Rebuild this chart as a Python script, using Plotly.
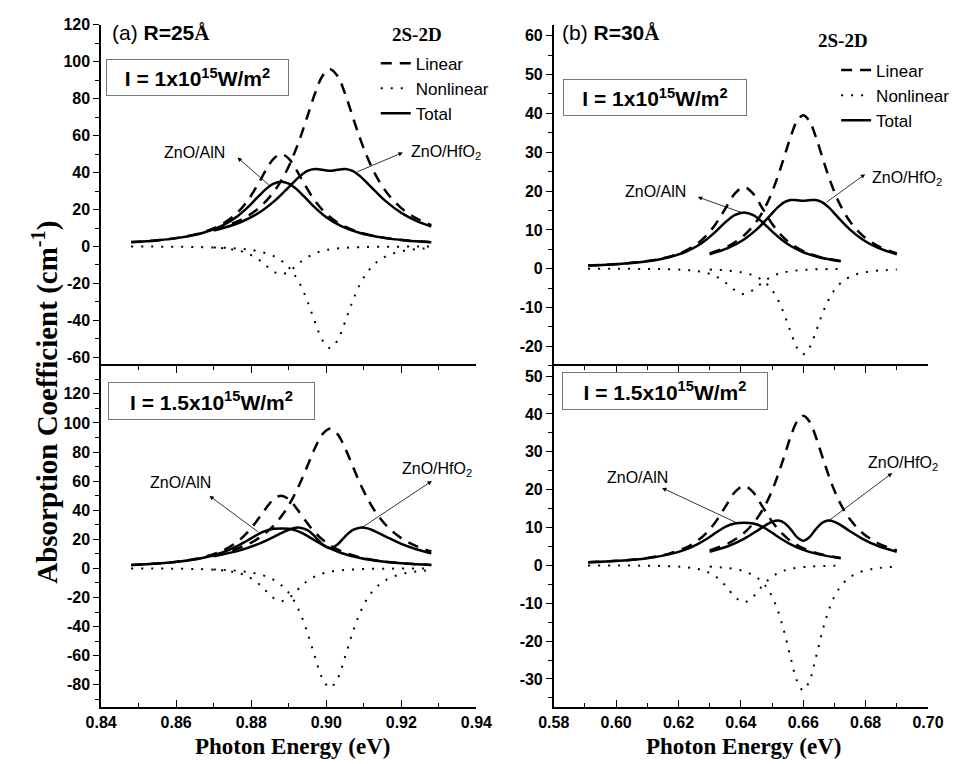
import plotly.graph_objects as go

# ---------------- data ----------------
# (a) R = 25 A
E_aln_a = [0.848, 0.855, 0.861, 0.867, 0.872, 0.876, 0.879, 0.882, 0.884, 0.886, 0.888,
           0.890, 0.892, 0.894, 0.897, 0.900, 0.904, 0.909, 0.915, 0.921, 0.928]
lin_aln_a = [2.4, 3.4, 4.9, 7.6, 11.8, 17.7, 24.7, 34.4, 41.6, 47.6, 50.0,
             47.6, 41.6, 34.4, 24.7, 17.7, 11.8, 7.6, 4.9, 3.4, 2.4]
nl_aln_a_1 = [-0.03, -0.07, -0.14, -0.35, -0.84, -1.9, -3.7, -7.1, -10.4, -13.6, -15.0,
              -13.6, -10.4, -7.1, -3.7, -1.9, -0.84, -0.35, -0.14, -0.07, -0.03]
tot_aln_a_1 = [2.3, 3.3, 4.8, 7.3, 11.0, 15.9, 21.1, 27.3, 31.2, 34.0, 35.0,
               34.0, 31.2, 27.3, 21.1, 15.9, 11.0, 7.3, 4.8, 3.3, 2.3]
nl_aln_a_15 = [-0.05, -0.1, -0.22, -0.52, -1.26, -2.8, -5.5, -10.6, -15.6, -20.4, -22.5,
               -20.4, -15.6, -10.6, -5.5, -2.8, -1.26, -0.52, -0.22, -0.1, -0.05]
tot_aln_a_15 = [2.3, 3.3, 4.7, 7.1, 10.6, 14.9, 19.2, 23.7, 26.0, 27.2, 27.5,
                27.2, 26.0, 23.7, 19.2, 14.9, 10.6, 7.1, 4.7, 3.3, 2.3]

E_hfo_a = [0.870, 0.877, 0.882, 0.886, 0.889, 0.891, 0.893, 0.895, 0.897, 0.899, 0.901,
           0.903, 0.905, 0.907, 0.909, 0.911, 0.913, 0.916, 0.920, 0.924, 0.928]
lin_hfo_a = [9.1, 14.2, 20.8, 29.5, 39.3, 48.0, 58.5, 70.6, 82.8, 92.3, 96.0,
             92.3, 82.8, 70.6, 58.5, 48.0, 39.3, 29.5, 20.8, 15.3, 11.6]
nl_hfo_a_1 = [-0.5, -1.2, -2.6, -5.2, -9.2, -13.8, -20.4, -29.7, -40.9, -50.8, -55.0,
              -50.8, -40.9, -29.7, -20.4, -13.8, -9.2, -5.2, -2.6, -1.4, -0.8]
tot_hfo_a_1 = [8.6, 13.0, 18.2, 24.3, 30.1, 34.2, 38.1, 40.9, 41.9, 41.5, 41.0,
               41.5, 41.9, 40.9, 38.1, 34.2, 30.1, 24.3, 18.2, 13.9, 10.8]
nl_hfo_a_15 = [-0.7, -1.8, -3.9, -7.8, -13.8, -20.5, -30.5, -44.3, -60.9, -75.8, -82.0,
               -75.8, -60.9, -44.3, -30.5, -20.5, -13.8, -7.8, -3.9, -2.1, -1.2]
tot_hfo_a_15 = [8.4, 12.4, 16.9, 21.7, 25.5, 27.5, 28.0, 26.3, 21.9, 16.5, 14.0,
                16.5, 21.9, 26.3, 28.0, 27.5, 25.5, 21.7, 16.9, 13.2, 10.4]

# (b) R = 30 A
E_aln_b = [0.591, 0.601, 0.610, 0.617, 0.622, 0.626, 0.629, 0.632, 0.635, 0.638, 0.641,
           0.644, 0.647, 0.650, 0.653, 0.656, 0.660, 0.665, 0.672]
lin_aln_b = [0.81, 1.23, 1.98, 3.11, 4.55, 6.46, 8.61, 11.6, 15.44, 19.27, 21.0,
             19.27, 15.44, 11.6, 8.61, 6.46, 4.55, 3.11, 1.98]
nl_aln_b_1 = [-0.01, -0.02, -0.06, -0.14, -0.31, -0.62, -1.09, -1.98, -3.51, -5.47, -6.5,
              -5.47, -3.51, -1.98, -1.09, -0.62, -0.31, -0.14, -0.06]
tot_aln_b_1 = [0.8, 1.21, 1.92, 2.97, 4.24, 5.84, 7.52, 9.62, 11.93, 13.8, 14.5,
               13.8, 11.93, 9.62, 7.52, 5.84, 4.24, 2.97, 1.92]
nl_aln_b_15 = [-0.01, -0.03, -0.09, -0.21, -0.46, -0.92, -1.64, -2.98, -5.27, -8.21, -9.75,
               -8.21, -5.27, -2.98, -1.64, -0.92, -0.46, -0.21, -0.09]
tot_aln_b_15 = [0.8, 1.2, 1.89, 2.9, 4.09, 5.54, 6.97, 8.62, 10.17, 11.06, 11.25,
                11.06, 10.17, 8.62, 6.97, 5.54, 4.09, 2.9, 1.89]

E_hfo_b = [0.630, 0.636, 0.641, 0.645, 0.648, 0.650, 0.652, 0.654, 0.656, 0.658, 0.660,
           0.662, 0.664, 0.666, 0.668, 0.670, 0.672, 0.675, 0.679, 0.684, 0.690]
lin_hfo_b = [3.95, 5.84, 8.57, 12.15, 16.19, 19.75, 24.09, 29.04, 34.05, 37.98, 39.5,
             37.98, 34.05, 29.04, 24.09, 19.75, 16.19, 12.15, 8.57, 5.84, 3.95]
nl_hfo_b_1 = [-0.22, -0.48, -1.03, -2.08, -3.69, -5.5, -8.18, -11.9, -16.35, -20.34, -22.0,
              -20.34, -16.35, -11.9, -8.18, -5.5, -3.69, -2.08, -1.03, -0.48, -0.22]
tot_hfo_b_1 = [3.73, 5.36, 7.54, 10.07, 12.5, 14.25, 15.91, 17.14, 17.7, 17.64, 17.5,
               17.64, 17.7, 17.14, 15.91, 14.25, 12.5, 10.07, 7.54, 5.36, 3.73]
nl_hfo_b_15 = [-0.33, -0.72, -1.55, -3.13, -5.54, -8.25, -12.27, -17.84, -24.53, -30.51, -33.0,
               -30.51, -24.53, -17.84, -12.27, -8.25, -5.54, -3.13, -1.55, -0.72, -0.33]
tot_hfo_b_15 = [3.62, 5.12, 7.02, 9.02, 10.65, 11.5, 11.82, 11.2, 9.52, 7.47, 6.5,
                7.47, 9.52, 11.2, 11.82, 11.5, 10.65, 9.02, 7.02, 5.12, 3.62]

legend_names = ["Linear", "Nonlinear", "Total"]

# tick labels
xt_a = [0.84, 0.86, 0.88, 0.90, 0.92, 0.94]
xt_b = [0.58, 0.60, 0.62, 0.64, 0.66, 0.68, 0.70]
yt_a_top = [-60, -40, -20, 0, 20, 40, 60, 80, 100, 120]
yt_a_bot = [-80, -60, -40, -20, 0, 20, 40, 60, 80, 100, 120]
yt_b_top = [-20, -10, 0, 10, 20, 30, 40, 50, 60]
yt_b_bot = [-30, -20, -10, 0, 10, 20, 30, 40, 50]

# ---------------- figure ----------------
W, H = 973, 764
def fx(p): return p / W
def fy(p): return 1 - p / H

fig = go.Figure()

DASH = "11px,8px"
DOT = "2px,8px"
LW = 2.5

panels = [
    ("x", "y", [(E_aln_a, lin_aln_a, nl_aln_a_1, tot_aln_a_1), (E_hfo_a, lin_hfo_a, nl_hfo_a_1, tot_hfo_a_1)]),
    ("x2", "y2", [(E_aln_b, lin_aln_b, nl_aln_b_1, tot_aln_b_1), (E_hfo_b, lin_hfo_b, nl_hfo_b_1, tot_hfo_b_1)]),
    ("x3", "y3", [(E_aln_a, lin_aln_a, nl_aln_a_15, tot_aln_a_15), (E_hfo_a, lin_hfo_a, nl_hfo_a_15, tot_hfo_a_15)]),
    ("x4", "y4", [(E_aln_b, lin_aln_b, nl_aln_b_15, tot_aln_b_15), (E_hfo_b, lin_hfo_b, nl_hfo_b_15, tot_hfo_b_15)]),
]
for xa, ya, mats in panels:
    for E, lin, nl, tot in mats:
        fig.add_trace(go.Scatter(x=E, y=nl, xaxis=xa, yaxis=ya, mode="lines", showlegend=False,
                                 line=dict(color="black", width=2, dash=DOT, shape="spline")))
        fig.add_trace(go.Scatter(x=E, y=lin, xaxis=xa, yaxis=ya, mode="lines", showlegend=False,
                                 line=dict(color="black", width=LW, dash=DASH, shape="spline")))
        fig.add_trace(go.Scatter(x=E, y=tot, xaxis=xa, yaxis=ya, mode="lines", showlegend=False,
                                 line=dict(color="black", width=LW, shape="spline")))

# legend entries
styles = [dict(dash=DASH, width=LW), dict(dash=DOT, width=2), dict(width=LW)]
for lg, xa, ya in [("legend", "x", "y"), ("legend2", "x2", "y2")]:
    for name, st in zip(legend_names, styles):
        fig.add_trace(go.Scatter(x=[None], y=[None], xaxis=xa, yaxis=ya, mode="lines", name=name,
                                 legend=lg, line=dict(color="black", **st)))

SANS = "Liberation Sans, Arial, sans-serif"
SERIF = "Liberation Serif, Times New Roman, serif"
tickfont = dict(family=SANS, size=16, color="black", weight=700)

def bold_labels(vals, fmt):
    return ["<b>" + fmt.format(v) + "</b>" for v in vals]

def xax(rng, dom, anchor, labels, vals, minor):
    d = dict(range=rng, domain=dom, anchor=anchor, showgrid=False, zeroline=False,
             tickvals=vals, ticktext=bold_labels(vals, "{:.2f}"), tickfont=tickfont,
             showticklabels=labels)
    if labels:
        d.update(showline=True, linecolor="black", linewidth=1.5,
                 ticks="inside", ticklen=7, tickwidth=1.3, tickcolor="black", mirror="ticks",
                 minor=dict(dtick=minor, tick0=rng[0], ticks="inside", ticklen=4,
                            tickcolor="black", tickwidth=1.2))
    else:
        d.update(showline=False, ticks="")
    return d

def yax(rng, dom, anchor, vals, minor):
    return dict(range=rng, domain=dom, anchor=anchor, showline=True, linecolor="black", linewidth=1.5,
                showgrid=False, zeroline=False, tickvals=vals, ticktext=bold_labels(vals, "{:d}"),
                ticks="outside", ticklen=6, tickwidth=1.3, tickcolor="black", tickfont=tickfont,
                minor=dict(dtick=minor, tick0=0, ticks="outside", ticklen=4, tickcolor="black",
                           tickwidth=1.2))

xL = [fx(88), fx(476)]
xR = [fx(556), fx(943)]
yT = [fy(362), fy(17)]
yB = [fy(706), fy(362)]

legfont = dict(family=SANS, size=17, color="black")
fig.update_layout(
    width=W, height=H, margin=dict(l=0, r=0, t=0, b=0),
    plot_bgcolor="white", paper_bgcolor="white",
    xaxis=xax([0.84, 0.94], xL, "y", False, xt_a, 0.01),
    yaxis=yax([-64.8, 120], yT, "x", yt_a_top, 10),
    xaxis2=xax([0.58, 0.70], xR, "y2", False, xt_b, 0.01),
    yaxis2=yax([-25.1, 62.8], yT, "x2", yt_b_top, 5),
    xaxis3=xax([0.84, 0.94], xL, "y3", True, xt_a, 0.01),
    yaxis3=yax([-95, 139], yB, "x3", yt_a_bot, 10),
    xaxis4=xax([0.58, 0.70], xR, "y4", True, xt_b, 0.01),
    yaxis4=yax([-37.3, 52.6], yB, "x4", yt_b_bot, 5),
    legend=dict(x=fx(372), y=fy(38), xanchor="left", yanchor="top", bgcolor="rgba(0,0,0,0)",
                font=legfont, tracegroupgap=0),
    legend2=dict(x=fx(848), y=fy(45), xanchor="left", yanchor="top", bgcolor="rgba(0,0,0,0)",
                 font=legfont, tracegroupgap=0),
)

ann = []
def text(x, y, t, size=16, family=SANS, bold=False, xanchor="center", yanchor="middle", **kw):
    f = dict(family=family, size=size, color="black")
    if bold:
        t = "<b>" + t + "</b>"
    ann.append(dict(x=fx(x), y=fy(y), xref="paper", yref="paper", text=t, showarrow=False,
                    xanchor=xanchor, yanchor=yanchor, font=f, **kw))

def arrow(tx, ty, hx, hy):
    ann.append(dict(x=fx(hx), y=fy(hy), xref="paper", yref="paper", text="", showarrow=True,
                    ax=tx - hx, ay=ty - hy, axref="pixel", ayref="pixel", arrowhead=2,
                    arrowsize=1.1, arrowwidth=0.8, arrowcolor="black", standoff=0, startstandoff=0))

def box(x0, y0, x1, y1, t):
    ann.append(dict(x=fx((x0 + x1) / 2), y=fy((y0 + y1) / 2), xref="paper", yref="paper",
                    text="<b>" + t + "</b>", xanchor="center", yanchor="middle",
                    showarrow=False, width=x1 - x0 - 2, height=y1 - y0 - 2, bordercolor="#777777",
                    borderwidth=1, borderpad=0, bgcolor="white",
                    font=dict(family=SANS, size=21, color="black")))

# panel titles
text(97, 25, "(a) <b>R=25<span style='font-family:Liberation Serif'>Å</span></b>", size=21, xanchor="left")
text(562, 25, "(b) <b>R=30<span style='font-family:Liberation Serif'>Å</span></b>", size=21, xanchor="left")
text(415, 27, "2S-2D", size=19, family=SERIF, bold=True)
text(855, 33, "2S-2D", size=19, family=SERIF, bold=True)

# intensity boxes
box(96, 52, 279, 89, "I = 1x10<sup>15</sup>W/m<sup>2</sup>")
box(99, 378, 306, 416, "I = 1.5x10<sup>15</sup>W/m<sup>2</sup>")
box(569, 72, 753, 109, "I = 1x10<sup>15</sup>W/m<sup>2</sup>")
box(568, 368, 774, 406, "I = 1.5x10<sup>15</sup>W/m<sup>2</sup>")

# material labels + arrows
text(185, 146, "ZnO/AlN")
arrow(262, 180, 229, 151)
text(445, 146, "ZnO/HfO<sub>2</sub>")
arrow(353, 166, 400, 146)

text(170, 480, "ZnO/AlN")
arrow(250, 530, 200, 493)
text(435, 466, "ZnO/HfO<sub>2</sub>")
arrow(358, 526, 430, 478)

text(661, 185, "ZnO/AlN")
arrow(750, 207, 705, 191)
text(921, 172, "ZnO/HfO<sub>2</sub>")
arrow(838, 197, 878, 168)

text(643, 474, "ZnO/AlN")
arrow(743, 520, 668, 485)
text(917, 460, "ZnO/HfO<sub>2</sub>")
arrow(842, 518, 906, 470)

# axis titles
text(31, 398, "Absorption Coefficient (cm<sup>-1</sup>)", size=29, family=SERIF, bold=True, textangle=-90)
text(286, 746, "Photon Energy (eV)", size=23, family=SERIF, bold=True)
text(752, 746, "Photon Energy (eV)", size=23, family=SERIF, bold=True)

fig.update_layout(annotations=ann)
fig.write_html("out.html", config={"displayModeBar": False},
               post_script="document.body.style.margin='0px';")
